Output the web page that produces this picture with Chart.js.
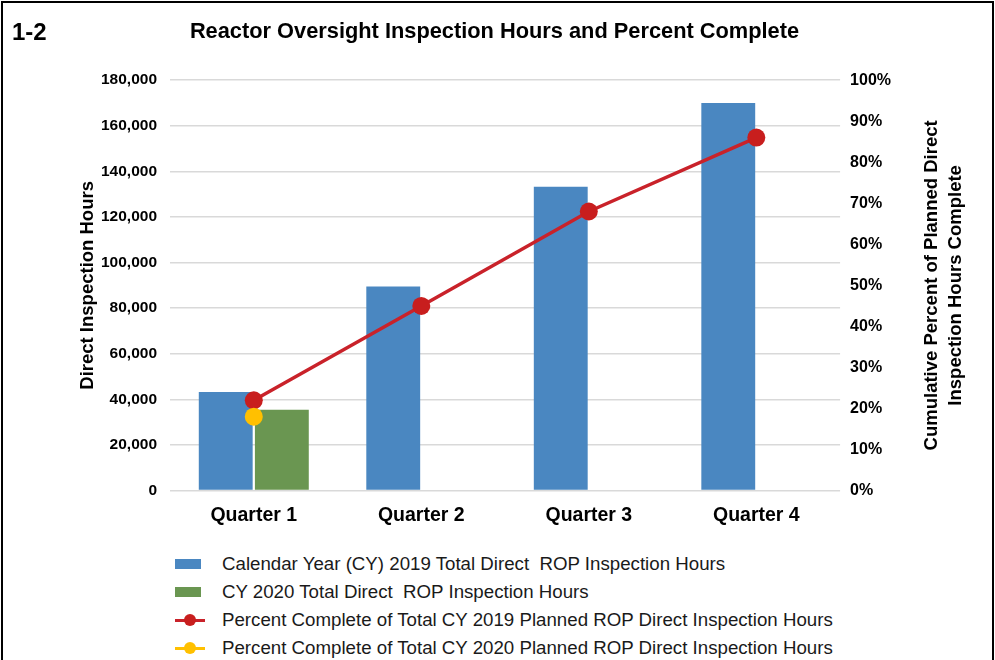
<!DOCTYPE html>
<html>
<head>
<meta charset="utf-8">
<script src="https://cdn.jsdelivr.net/npm/chart.js@4"></script>
<style>
  body { margin: 0; background: #fff; font-family: "Liberation Sans", Arial, sans-serif; }
  #wrap { position: relative; width: 995px; height: 660px; overflow: hidden; }
  #frame { position: absolute; left: 1px; top: 1px; right: 1px; bottom: -10px; border: 2px solid #000; }
  #myChart { position: absolute; left: 0; top: 0; }
  #legend { position: absolute; left: 175px; top: 550px; font-size: 18.7px; color: #1a1a1a; white-space: pre; }
  .item { height: 28px; display: flex; align-items: center; }
  .sym { width: 32px; height: 14px; position: relative; margin-right: 15px; }
</style>
</head>
<body>
<div id="wrap">
  <div id="frame"></div>
  <canvas id="myChart" width="995" height="547"></canvas>
  <div id="legend"></div>
</div>
<script>
// Data
var quarters = ['Quarter 1', 'Quarter 2', 'Quarter 3', 'Quarter 4'];
var hours2019 = [43200, 89500, 133300, 170000];
var hours2020 = [35500, null, null, null];
var pct2019 = [22, 45, 68, 86];
var pct2020 = [18, null, null, null];

var labels = [
  'Calendar Year (CY) 2019 Total Direct  ROP Inspection Hours',
  'CY 2020 Total Direct  ROP Inspection Hours',
  'Percent Complete of Total CY 2019 Planned ROP Direct Inspection Hours',
  'Percent Complete of Total CY 2020 Planned ROP Direct Inspection Hours'
];
var leftTitle = 'Direct Inspection Hours';
var rightTitle = ['Cumulative Percent of Planned Direct', 'Inspection Hours Complete'];

var FONT = '"Liberation Sans", Arial, sans-serif';

// draws "1-2" label and both axis titles (read bottom-to-top)
var extras = {
  id: 'extras',
  afterDraw: function (chart) {
    var c = chart.ctx;
    var area = chart.chartArea;
    var midY = (area.top + area.bottom) / 2;
    c.save();
    c.fillStyle = '#000';
    c.font = 'bold 24px ' + FONT;
    c.textAlign = 'left';
    c.textBaseline = 'middle';
    c.fillText('1-2', 12, 33);
    c.font = 'bold 18.5px ' + FONT;
    c.textAlign = 'center';
    c.save();
    c.translate(88, midY);
    c.rotate(-Math.PI / 2);
    c.fillText(leftTitle, 0, 0);
    c.restore();
    c.translate(area.right + 92, midY);
    c.rotate(-Math.PI / 2);
    c.fillText(rightTitle[0], 0, 0);
    c.fillText(rightTitle[1], 0, 24);
    c.restore();
  }
};

var ctx = document.getElementById('myChart').getContext('2d');

var myChart = new Chart(ctx, {
  type: 'bar',
  data: {
    labels: quarters,
    datasets: [
      {
        type: 'line', label: labels[3], data: pct2020, yAxisID: 'y1', order: 0,
        borderColor: '#ffc000', backgroundColor: '#ffc000', borderWidth: 3.5,
        pointRadius: 9, pointBorderWidth: 0, pointHoverRadius: 9
      },
      {
        type: 'line', label: labels[2], data: pct2019, yAxisID: 'y1', order: 1,
        borderColor: '#c9222a', backgroundColor: '#c81e1e', borderWidth: 3.5,
        pointRadius: 9, pointBorderWidth: 0, pointHoverRadius: 9
      },
      {
        label: labels[0], data: hours2019, yAxisID: 'y', order: 2,
        backgroundColor: '#4a87c1', categoryPercentage: 0.67, barPercentage: 0.96
      },
      {
        label: labels[1], data: hours2020, yAxisID: 'y', order: 3,
        backgroundColor: '#6a9651', categoryPercentage: 0.67, barPercentage: 0.96
      }
    ]
  },
  options: {
    responsive: false,
    animation: false,
    layout: { padding: { top: 10, left: 88, right: 94, bottom: 15 } },
    plugins: {
      legend: { display: false },
      tooltip: { enabled: false },
      title: {
        display: true,
        text: 'Reactor Oversight Inspection Hours and Percent Complete',
        color: '#000',
        font: { family: FONT, size: 21.8, weight: 'bold' },
        padding: { top: 9, bottom: 35 }
      }
    },
    scales: {
      x: {
        grid: { display: false },
        border: { display: false },
        ticks: { color: '#000', font: { family: FONT, size: 19.5, weight: 'bold' }, padding: 5 }
      },
      y: {
        position: 'left',
        min: 0, max: 180000,
        ticks: {
          stepSize: 20000, color: '#000', padding: 13,
          font: { family: FONT, size: 15.5, weight: 'bold' },
          callback: function (v) { return v.toLocaleString('en-US'); }
        },
        grid: { color: '#d9d9d9', lineWidth: 1.5, drawTicks: false },
        border: { display: false }
      },
      y1: {
        position: 'right',
        min: 0, max: 100,
        ticks: {
          stepSize: 10, color: '#000', padding: 10,
          font: { family: FONT, size: 16, weight: 'bold' },
          callback: function (v) { return v + '%'; }
        },
        grid: { display: false, drawTicks: false },
        border: { display: false }
      }
    }
  },
  plugins: [extras]
});

// HTML legend, one item per row, in the reference order
var legendOrder = [2, 3, 1, 0];
var legendEl = document.getElementById('legend');
legendOrder.forEach(function (i) {
  var ds = myChart.data.datasets[i];
  var item = document.createElement('div');
  item.className = 'item';
  var sym = document.createElement('div');
  sym.className = 'sym';
  if (ds.type === 'line') {
    sym.innerHTML = '<div style="position:absolute;left:0;top:5.5px;width:30px;height:3.5px;background:' + ds.borderColor + '"></div>' +
      '<div style="position:absolute;left:9px;top:1px;width:12px;height:12px;border-radius:6px;background:' + ds.backgroundColor + '"></div>';
  } else {
    sym.innerHTML = '<div style="position:absolute;left:0;top:2px;width:26px;height:10px;background:' + ds.backgroundColor + '"></div>';
  }
  var txt = document.createElement('span');
  txt.textContent = ds.label;
  item.appendChild(sym);
  item.appendChild(txt);
  legendEl.appendChild(item);
});
</script>
</body>
</html>
